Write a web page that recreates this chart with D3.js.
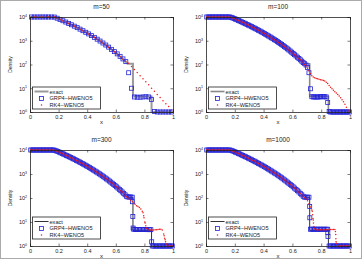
<!DOCTYPE html>
<html>
<head>
<meta charset="utf-8">
<script src="https://cdn.jsdelivr.net/npm/d3@7"></script>
<style>
  body { margin: 0; background: #fff; }
  svg text { font-family: "Liberation Sans", Arial, sans-serif; fill: #222; }
</style>
</head>
<body>
<div id="chart"></div>
<script>
var titles = ['m=50', 'm=100', 'm=300', 'm=1000'];
var xTicks = [0, 0.2, 0.4, 0.6, 0.8, 1];
var yTicks = [1, 10, 100, 1000, 10000];
var legendLabels = ['exact', 'GRP4\u2212HWENO5', 'RK4\u2212WENO5'];

// exact solution
var exactX = [0, 0.17, 0.19, 0.21, 0.25, 0.3, 0.35, 0.4, 0.45, 0.5, 0.55, 0.6, 0.65, 0.682, 0.72, 0.72, 0.85, 0.85, 1];
var exactRho = [10000, 10000, 8890, 7880, 6130, 4400, 3080, 2100, 1390, 883, 538, 309, 166, 107, 107, 4.5, 4.5, 1, 1];

// m=50, cell centres 0.01, 0.03, ... 0.99
var grp50 = [10000, 10000, 10000, 10000, 10000, 10000, 10000, 10000,
  9950, 8890, 7880, 6960, 6130, 5380, 4710, 4110, 3560, 3080, 2650, 2275, 1940, 1646, 1390, 1165, 971, 803, 660, 538, 434, 348, 280, 220, 172, 132,
  45, 10, 4.3, 4.2, 4.2, 4.3, 4.4, 4.3, 3.4, 1.05, 1, 1, 1, 1, 1, 1];
var rk50 = [10000, 10000, 10000, 10000, 10000, 10000, 10000, 10000,
  9900, 8950, 7880, 6960, 6130, 5380, 4710, 4110, 3560, 3080, 2650, 2275, 1940, 1646, 1390, 1165, 971, 803, 660, 538, 434, 348, 280, 218, 170, 138,
  112, 83, 62, 46, 34, 25, 19, 14, 10, 7.4, 5.5, 4.1, 3.0, 2.2, 1.7, 1.2];

// rarefaction part shared by the finer runs, cell centres 0.005 ... 0.645
var smoothRho = [10000, 10000, 10000, 10000, 10000, 10000, 10000, 10000, 10000, 10000, 10000, 10000, 10000, 10000, 10000, 10000, 10000,
  9710, 9160, 8630, 8120, 7640, 7180, 6750, 6330, 5940, 5560, 5210, 4870, 4550, 4250, 3970, 3690, 3440, 3200, 2970, 2760,
  2560, 2370, 2190, 2020, 1860, 1720, 1580, 1450, 1330, 1220, 1110, 1020, 926, 843, 765, 694, 627, 566, 510, 458,
  411, 368, 328, 292, 259, 229, 202, 178];

// tails, cell centres 0.655 ... 0.995
var grp100Tail = [158, 138, 120, 108, 95, 75, 45, 9.5, 4.4, 4.3, 4.3, 4.3, 4.3, 4.3, 4.4, 4.4, 4.4, 4.4, 4.3, 2.5, 1.05,
  1, 1, 1, 1, 1, 1, 1, 1, 1, 1, 1, 1, 1, 1];
var rk100Tail = [160, 140, 120, 100, 85, 70, 55, 42, 34, 30, 28, 26, 25, 24, 23, 22, 21, 20, 18, 16, 13, 11, 9.5, 8.3, 7.2,
  6.3, 5.5, 4.7, 4.0, 3.3, 2.7, 2.1, 1.6, 1.2, 1.03];
var grp300Tail = [156, 136, 118, 110, 110, 110, 108, 5.0, 4.9, 4.9, 4.9, 4.9, 4.9, 4.9, 4.9, 4.9, 4.9, 4.8, 4.8, 4.8,
  1, 1, 1, 1, 1, 1, 1, 1, 1, 1, 1, 1, 1, 1, 1];
var rk300Tail = [150, 130, 112, 100, 90, 80, 70, 62, 55, 48, 44, 40, 35, 28, 18, 9, 5.5, 4.8, 4.7, 4.6, 4.6, 4.6, 4.7,
  4.8, 4.9, 5.0, 5.0, 4.6, 3.2, 1.8, 1.2, 1, 1, 1, 1];
var grp1000Tail = [156, 136, 118, 108, 108, 108, 108, 5.0, 5.0, 5.0, 5.0, 5.0, 5.0, 5.0, 5.0, 5.0, 5.0, 5.0, 5.0, 5.0,
  1, 1, 1, 1, 1, 1, 1, 1, 1, 1, 1, 1, 1, 1, 1];
var rk1000Tail = [155, 135, 117, 105, 90, 76, 58, 42, 32, 12, 5.2, 4.8, 4.8, 4.8, 4.8, 4.8, 4.8, 4.8, 4.8, 4.9, 4.9, 4.9,
  4.9, 4.9, 4.9, 1.3, 1, 1, 1, 1, 1, 1, 1, 1, 1];

// isolated points on the jumps
var grp300Jump = [[0.717, 70], [0.719, 17], [0.721, 5.6], [0.851, 1.5]];
var rk300Jump = [[0.79, 24], [0.797, 15], [0.803, 10], [0.81, 7], [0.938, 2.7], [0.942, 2.1], [0.948, 1.5]];
var grp1000Jump = [[0.72, 44], [0.721, 15], [0.846, 3.6], [0.847, 2.5]];
var rk1000Jump = [[0.738, 28], [0.741, 20], [0.743, 14], [0.746, 9], [0.749, 6.5], [0.899, 4], [0.901, 3], [0.902, 2], [0.903, 1.5]];

function cells(vals){
  var m = vals.length;
  return vals.map(function(v, i){ return [(i + 0.5) / m, v]; });
}

var panels = [
  {title: titles[0], left: 30, right: 173, top: 17, bottom: 112, grp: cells(grp50), rk: cells(rk50), exactColor: '#9a9a9a', exactWidth: 2, legDy: 3},
  {title: titles[1], left: 206, right: 350, top: 17, bottom: 112, grp: cells(smoothRho.concat(grp100Tail)), rk: cells(smoothRho.concat(rk100Tail)), exactColor: '#8a8a8a', exactWidth: 1.6, legDy: 3},
  {title: titles[2], left: 30, right: 173, top: 150, bottom: 246, grp: cells(smoothRho.concat(grp300Tail)).concat(grp300Jump), rk: cells(smoothRho.concat(rk300Tail)).concat(rk300Jump), exactColor: '#333', exactWidth: 1, legDy: 7},
  {title: titles[3], left: 206, right: 350, top: 150, bottom: 246, grp: cells(smoothRho.concat(grp1000Tail)).concat(grp1000Jump), rk: cells(smoothRho.concat(rk1000Tail)).concat(rk1000Jump), exactColor: '#333', exactWidth: 1, legDy: 7}
];

var svg = d3.select('#chart').append('svg')
  .attr('width', 362)
  .attr('height', 259);

svg.append('rect')
  .attr('x', 0.5).attr('y', 0.5)
  .attr('width', 361).attr('height', 258)
  .attr('fill', '#fff')
  .attr('stroke', '#aaa');

panels.forEach(drawPanel);

function drawPanel(p){
  var x = d3.scaleLinear().domain([0, 1]).range([p.left, p.right]);
  var y = d3.scaleLog().domain([1, 10000]).range([p.bottom, p.top]);
  var g = svg.append('g');

  // data
  var exact = exactX.map(function(d, i){ return [d, exactRho[i]]; });
  var line = d3.line()
    .x(function(d){ return x(d[0]); })
    .y(function(d){ return y(d[1]); });

  g.append('path')
    .datum(exact)
    .attr('d', line)
    .attr('fill', 'none')
    .attr('stroke', p.exactColor)
    .attr('stroke-width', p.exactWidth);

  g.selectAll('rect.grp')
    .data(p.grp)
    .enter().append('rect')
      .attr('class', 'grp')
      .attr('x', function(d){ return x(d[0]) - 2; })
      .attr('y', function(d){ return y(d[1]) - 2; })
      .attr('width', 4)
      .attr('height', 4)
      .attr('fill', 'none')
      .attr('stroke', '#2424d8')
      .attr('stroke-width', 0.8);

  g.selectAll('circle.rk')
    .data(p.rk)
    .enter().append('circle')
      .attr('class', 'rk')
      .attr('cx', function(d){ return x(d[0]); })
      .attr('cy', function(d){ return y(d[1]); })
      .attr('r', 0.75)
      .attr('fill', '#f01818');

  // axes
  var fmtX = function(d){ return d === 0 || d === 1 ? d3.format('d')(d) : d3.format('.1f')(d); };
  g.append('g')
    .attr('transform', 'translate(0,' + p.bottom + ')')
    .call(d3.axisBottom(x).tickValues(xTicks).tickSize(-2.5).tickPadding(3).tickFormat(fmtX))
    .call(styleAxis);
  g.append('g')
    .attr('transform', 'translate(0,' + p.top + ')')
    .call(d3.axisTop(x).tickValues(xTicks).tickSize(-2.5).tickFormat(''))
    .call(styleAxis);
  var yl = g.append('g')
    .attr('transform', 'translate(' + p.left + ',0)')
    .call(d3.axisLeft(y).tickValues(yTicks).tickSize(-2.5).tickPadding(3).tickFormat(''))
    .call(styleAxis);
  g.append('g')
    .attr('transform', 'translate(' + p.right + ',0)')
    .call(d3.axisRight(y).tickValues(yTicks).tickSize(-2.5).tickFormat(''))
    .call(styleAxis);

  yl.selectAll('.tick text').each(function(d){
    var t = d3.select(this);
    t.append('tspan').text('10');
    t.append('tspan')
      .attr('dy', -2.5)
      .attr('font-size', 3.6)
      .text(Math.round(Math.log10(d)));
  }).attr('dy', '0.35em');

  // labels
  g.append('text')
    .attr('x', (p.left + p.right) / 2)
    .attr('y', p.top - 8)
    .attr('text-anchor', 'middle')
    .attr('font-size', 6.5)
    .text(p.title);
  g.append('text')
    .attr('x', (p.left + p.right) / 2)
    .attr('y', p.bottom + 12)
    .attr('text-anchor', 'middle')
    .attr('font-size', 6)
    .text('x');
  g.append('text')
    .attr('transform', 'translate(' + (p.left - 18) + ',' + ((p.top + p.bottom) / 2) + ') rotate(-90)')
    .attr('text-anchor', 'middle')
    .attr('font-size', 5)
    .text('Density');

  // legend
  var lx = p.left + 2.5, lb = p.bottom - p.legDy, lh = 22, lw = 68;
  var leg = g.append('g').attr('transform', 'translate(' + lx + ',' + (lb - lh) + ')');
  leg.append('rect')
    .attr('width', lw).attr('height', lh)
    .attr('fill', '#fff')
    .attr('stroke', '#222')
    .attr('stroke-width', 0.8);
  leg.append('line')
    .attr('x1', 2).attr('x2', 16).attr('y1', 4.5).attr('y2', 4.5)
    .attr('stroke', p.exactColor).attr('stroke-width', p.exactWidth);
  leg.append('rect')
    .attr('x', 7).attr('y', 9.5).attr('width', 4).attr('height', 4)
    .attr('fill', 'none').attr('stroke', '#2424d8').attr('stroke-width', 0.8);
  leg.append('circle')
    .attr('cx', 9).attr('cy', 18).attr('r', 0.75).attr('fill', '#f01818');
  leg.selectAll('text.lab')
    .data(legendLabels)
    .enter().append('text')
      .attr('class', 'lab')
      .attr('x', 17)
      .attr('y', function(d, i){ return 6.5 + i * 6.8; })
      .attr('font-size', 5.6)
      .text(function(d){ return d; });
}

function styleAxis(sel){
  sel.select('.domain').attr('stroke', '#222').attr('stroke-width', 0.8);
  sel.selectAll('.tick line').attr('stroke', '#222').attr('stroke-width', 0.6);
  sel.selectAll('.tick text').attr('font-size', 5.5).attr('fill', '#222').attr('font-family', '"Liberation Sans", Arial, sans-serif');
}
</script>
</body>
</html>
